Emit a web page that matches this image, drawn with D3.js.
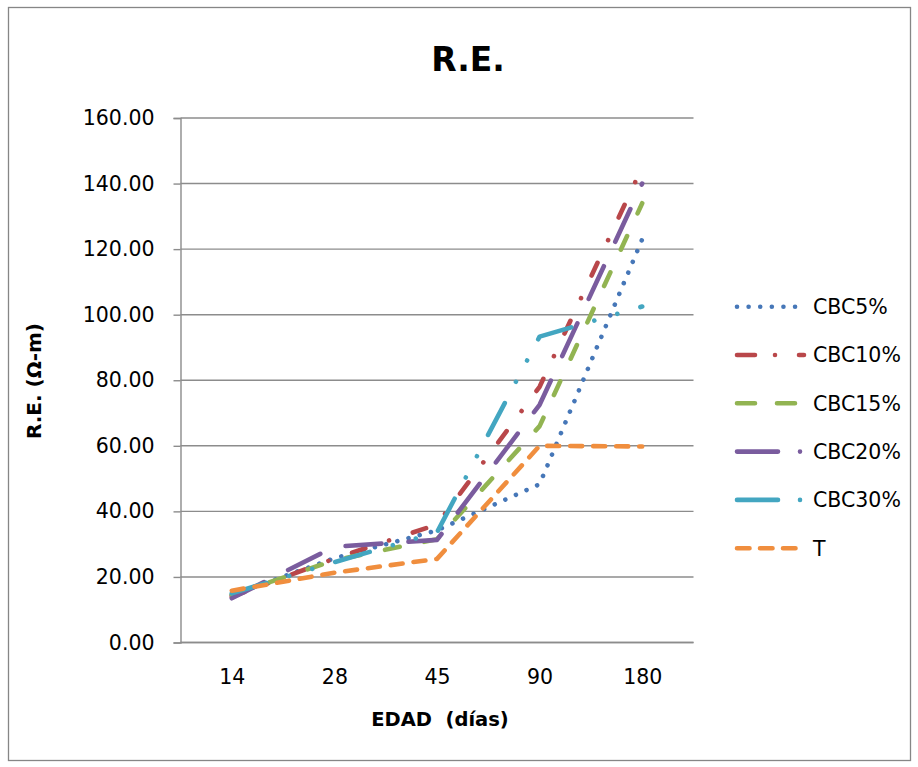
<!DOCTYPE html>
<html>
<head>
<meta charset="utf-8">
<script src="https://cdn.jsdelivr.net/npm/d3@7"></script>
<style>
  html, body { margin: 0; padding: 0; background: #fff; }
  svg { display: block; }
  text { white-space: pre; }
</style>
</head>
<body>
<svg id="chart" width="918" height="767"></svg>
<script>
// ---- data ----
const categories = ["14", "28", "45", "90", "180"];
const seriesNames = ["CBC5%", "CBC10%", "CBC15%", "CBC20%", "CBC30%", "T"];
const cbc5  = [14.5, 25.7, 34.2, 48.3, 123.0];
const cbc10 = [14.0, 25.6, 36.0, 78.0, 145.0];
const cbc15 = [14.5, 25.1, 31.5, 66.0, 134.0];
const cbc20 = [13.5, 29.2, 31.3, 72.5, 140.0];
const cbc30 = [15.0, 24.5, 33.6, 93.3, 102.5];
const tSer  = [15.8, 21.3, 25.5, 60.0, 59.8];
const yTicks = [0, 20, 40, 60, 80, 100, 120, 140, 160];

const chartTitle = "R.E.";
const yTitle = "R.E. (Ω-m)";
const xTitle = "EDAD  (días)";

// ---- styles ----
const styles = [
  { color: "#4677B8", dash: "0.01 11.6",               legendDash: "0.01 11.6" },
  { color: "#B9474A", dash: "14 25 0.01 25",           legendDash: "18 20 0.01 24" },
  { color: "#92B452", dash: "15 25",                   legendDash: "18 22" },
  { color: "#7A5C9E", dash: "36 27",                   legendDash: "41 22 0.01 30" },
  { color: "#43A6C1", dash: "36 24 0.01 24 0.01 24",   legendDash: "41 22 0.01 30" },
  { color: "#F08E3E", dash: "12 11",                   legendDash: "12.5 10.5" }
];
const allValues = [cbc5, cbc10, cbc15, cbc20, cbc30, tSer];

const svg = d3.select("#chart");
const FONT = "'DejaVu Sans', sans-serif";

// outer frame
svg.append("rect")
  .attr("x", 8.5).attr("y", 7.5)
  .attr("width", 902).attr("height", 753)
  .attr("fill", "#fff").attr("stroke", "#868686").attr("stroke-width", 1.3);

const plot = { left: 180.5, right: 693.5, top: 118, bottom: 642.5 };

const x = d3.scalePoint().domain(categories).range([plot.left, plot.right]).padding(0.5);
const y = d3.scaleLinear().domain([0, 160]).range([plot.bottom, plot.top]);

// gridlines
svg.append("g").selectAll("line").data(yTicks).join("line")
  .attr("x1", plot.left).attr("x2", plot.right)
  .attr("y1", d => y(d)).attr("y2", d => y(d))
  .attr("stroke", "#8C8C8C").attr("stroke-width", 1.4);

// y axis
const yAxis = svg.append("g")
  .attr("transform", `translate(${plot.left},0)`)
  .call(d3.axisLeft(y).tickValues(yTicks).tickFormat(d3.format(".2f")).tickSize(7).tickPadding(19));
yAxis.select(".domain").attr("stroke", "#8C8C8C").attr("stroke-width", 1.4);
yAxis.selectAll(".tick line").attr("stroke", "#8C8C8C").attr("stroke-width", 1.4);
yAxis.selectAll("text").attr("font-family", FONT).attr("font-size", 20.5).attr("fill", "#000");

// x axis
const xAxis = svg.append("g")
  .attr("transform", `translate(0,${plot.bottom})`)
  .call(d3.axisBottom(x).tickSize(0).tickPadding(27));
xAxis.select(".domain").attr("stroke", "#8C8C8C").attr("stroke-width", 1.4)
  .attr("d", `M${plot.left},0H${plot.right}`);
xAxis.selectAll("text").attr("font-family", FONT).attr("font-size", 20.5).attr("fill", "#000");

// series lines
const line = d3.line().x((d, i) => x(categories[i])).y(d => y(d));
allValues.forEach((vals, i) => {
  svg.append("path")
    .datum(vals)
    .attr("d", line)
    .attr("fill", "none")
    .attr("stroke", styles[i].color)
    .attr("stroke-width", 4.6)
    .attr("stroke-linecap", "round")
    .attr("stroke-linejoin", "round")
    .attr("stroke-dasharray", styles[i].dash);
});

// title
svg.append("text")
  .attr("x", 468).attr("y", 71)
  .attr("text-anchor", "middle")
  .attr("font-family", FONT).attr("font-weight", "bold").attr("font-size", 33)
  .text(chartTitle);

// axis titles
svg.append("text")
  .attr("transform", `translate(41,381) rotate(-90)`)
  .attr("text-anchor", "middle")
  .attr("font-family", FONT).attr("font-weight", "bold").attr("font-size", 20)
  .text(yTitle);

svg.append("text")
  .attr("x", 440).attr("y", 726)
  .attr("text-anchor", "middle")
  .attr("font-family", FONT).attr("font-weight", "bold").attr("font-size", 19.5)
  .text(xTitle);

// legend
const legend = svg.append("g");
seriesNames.forEach((name, i) => {
  const ly = 306.7 + i * 48.3;
  legend.append("line")
    .attr("x1", 737).attr("x2", 804)
    .attr("y1", ly).attr("y2", ly)
    .attr("stroke", styles[i].color)
    .attr("stroke-width", 4.6)
    .attr("stroke-linecap", "round")
    .attr("stroke-dasharray", styles[i].legendDash);
  legend.append("text")
    .attr("x", 813).attr("y", ly).attr("dy", "0.36em")
    .attr("font-family", FONT).attr("font-size", 20.5).attr("fill", "#000")
    .text(name);
});
</script>
</body>
</html>
